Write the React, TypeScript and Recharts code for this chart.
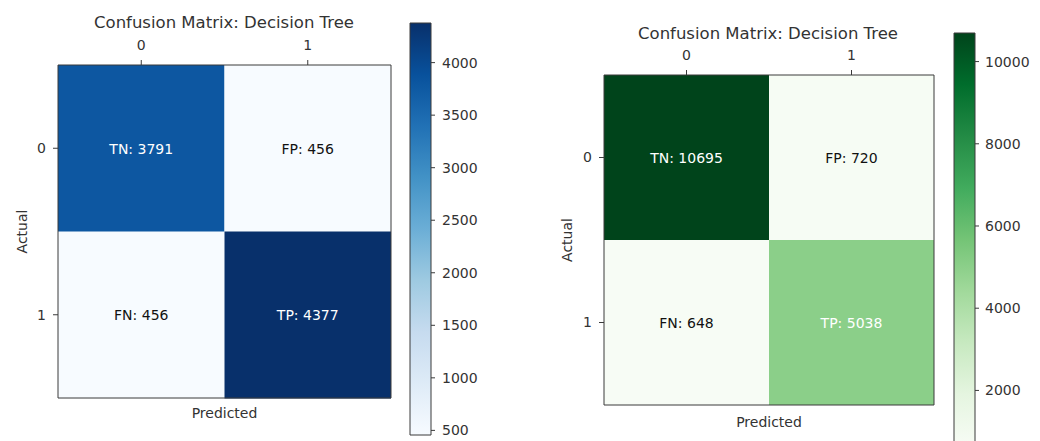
import React from 'react';
import { BarChart, Bar, XAxis, YAxis, Cell, LabelList } from 'recharts';

// ---- data ----
const CLASSES = ['0', '1'];
const CELL_TAGS = [['TN', 'FP'], ['FN', 'TP']];
const BLUE_ROW0 = [3791, 456];
const BLUE_ROW1 = [456, 4377];
const GREEN_ROW0 = [10695, 720];
const GREEN_ROW1 = [648, 5038];
const BLUE_CBAR_TICKS = [500, 1000, 1500, 2000, 2500, 3000, 3500, 4000];
const GREEN_CBAR_TICKS = [2000, 4000, 6000, 8000, 10000];
const TITLE = 'Confusion Matrix: Decision Tree';
const X_LABEL = 'Predicted';
const Y_LABEL = 'Actual';

// matplotlib colormaps (Blues / Greens)
const BLUES = ['#f7fbff', '#deebf7', '#c6dbef', '#9ecae1', '#6baed6', '#4292c6', '#2171b5', '#08519c', '#08306b'];
const GREENS = ['#f7fcf5', '#e5f5e0', '#c7e9c0', '#a1d99b', '#74c476', '#41ab5d', '#238b45', '#006d2c', '#00441b'];

const FONT = '"DejaVu Sans", sans-serif';
const AXIS_COLOR = '#3a3a3a';
const TEXT_COLOR = '#333';

function hexToRgb(h: string) {
  const n = parseInt(h.slice(1), 16);
  return [(n >> 16) & 255, (n >> 8) & 255, n & 255];
}
function cmap(stops: string[], t: number) {
  const tt = Math.max(0, Math.min(1, t));
  const p = tt * (stops.length - 1);
  const i = Math.min(stops.length - 2, Math.floor(p));
  const f = p - i;
  const a = hexToRgb(stops[i]);
  const b = hexToRgb(stops[i + 1]);
  const c = a.map((v, k) => Math.round(v + (b[k] - v) * f));
  return `rgb(${c[0]},${c[1]},${c[2]})`;
}

type HeatProps = {
  matrix: number[][];
  stops: string[];
  w: number;
  h: number;
  margin: { top: number; right: number; bottom: number; left: number };
  yLabelOffset: number;
  xLabelOffset: number;
};

function Heatmap({ matrix, stops, w, h, margin, yLabelOffset, xLabelOffset }: HeatProps) {
  const flat = matrix.flat();
  const vmin = Math.min(...flat);
  const vmax = Math.max(...flat);
  const thresh = flat.reduce((s, v) => s + v, 0) / flat.length;
  const color = (v: number) => cmap(stops, (v - vmin) / (vmax - vmin));
  const data = CLASSES.map((c, i) => ({ actual: c, p0: 1, p1: 1, v0: matrix[i][0], v1: matrix[i][1] }));

  const renderCellText = (col: number) => (props: any) => {
    const { x, y, width, height, index } = props;
    const v = matrix[index][col];
    return (
      <text
        x={Number(x) + Number(width) / 2}
        y={Number(y) + Number(height) / 2}
        textAnchor="middle"
        dominantBaseline="central"
        fill={v > thresh ? '#ffffff' : '#111111'}
        fontSize={14}
        fontFamily={FONT}
      >
        {`${CELL_TAGS[index][col]}: ${v}`}
      </text>
    );
  };

  const tickStyle = { fill: TEXT_COLOR, fontSize: 14, fontFamily: FONT };

  return (
    <BarChart width={w} height={h} data={data} layout="vertical" margin={margin} barCategoryGap={0} barGap={0}>
      <XAxis
        xAxisId="top"
        type="number"
        orientation="top"
        domain={[0, 2]}
        ticks={[0.5, 1.5]}
        tickFormatter={(v: number) => CLASSES[Math.floor(v)]}
        height={35}
        tickSize={5}
        tickMargin={10}
        stroke={AXIS_COLOR}
        tick={tickStyle}
      />
      <XAxis
        xAxisId="bottom"
        type="number"
        orientation="bottom"
        domain={[0, 2]}
        ticks={[0.5, 1.5]}
        tickFormatter={() => ''}
        height={30}
        tickSize={5}
        stroke={AXIS_COLOR}
        tick={tickStyle}
        label={{
          value: X_LABEL,
          position: 'insideBottom',
          offset: xLabelOffset,
          fill: TEXT_COLOR,
          fontSize: 14,
          fontFamily: FONT,
        }}
      />
      <YAxis
        yAxisId="left"
        type="category"
        dataKey="actual"
        width={40}
        tickSize={5}
        tickMargin={7}
        stroke={AXIS_COLOR}
        tick={tickStyle}
        label={{
          value: Y_LABEL,
          angle: -90,
          position: 'insideLeft',
          offset: yLabelOffset,
          fill: TEXT_COLOR,
          fontSize: 14,
          fontFamily: FONT,
          style: { textAnchor: 'middle' },
        }}
      />
      <YAxis
        yAxisId="right"
        type="category"
        dataKey="actual"
        orientation="right"
        width={2}
        tick={false}
        tickLine={false}
        stroke={AXIS_COLOR}
      />
      <Bar dataKey="p0" stackId="s" xAxisId="top" yAxisId="left" isAnimationActive={false}>
        {data.map((d, i) => (
          <Cell key={i} fill={color(d.v0)} />
        ))}
        <LabelList dataKey="v0" content={renderCellText(0)} />
      </Bar>
      <Bar dataKey="p1" stackId="s" xAxisId="top" yAxisId="left" isAnimationActive={false}>
        {data.map((d, i) => (
          <Cell key={i} fill={color(d.v1)} />
        ))}
        <LabelList dataKey="v1" content={renderCellText(1)} />
      </Bar>
    </BarChart>
  );
}

type CbarProps = {
  matrix: number[][];
  stops: string[];
  ticks: number[];
  w: number;
  h: number;
  margin: { top: number; right: number; bottom: number; left: number };
  gid: string;
  tickMargin: number;
};

function Colorbar({ matrix, stops, ticks, w, h, margin, gid, tickMargin }: CbarProps) {
  const flat = matrix.flat();
  const vmin = Math.min(...flat);
  const vmax = Math.max(...flat);
  const data = [{ k: 'cb', range: [vmin, vmax] }];
  return (
    <BarChart width={w} height={h} data={data} margin={margin} barCategoryGap={0}>
      <defs>
        <linearGradient id={gid} x1="0" y1="1" x2="0" y2="0">
          {stops.map((c, i) => (
            <stop key={i} offset={i / (stops.length - 1)} stopColor={c} />
          ))}
        </linearGradient>
      </defs>
      <XAxis dataKey="k" hide />
      <YAxis
        type="number"
        orientation="right"
        domain={[vmin, vmax]}
        ticks={ticks}
        width={60}
        axisLine={false}
        tickSize={4}
        tickMargin={tickMargin}
        stroke={AXIS_COLOR}
        tick={{ fill: TEXT_COLOR, fontSize: 14, fontFamily: FONT }}
      />
      <Bar dataKey="range" fill={`url(#${gid})`} stroke={AXIS_COLOR} strokeWidth={1} isAnimationActive={false} />
    </BarChart>
  );
}

const titleStyle = (cx: number, cy: number): React.CSSProperties => ({
  position: 'absolute',
  left: cx - 200,
  top: cy - 9,
  width: 400,
  textAlign: 'center',
  fontFamily: FONT,
  fontSize: 16.5,
  lineHeight: '20px',
  color: TEXT_COLOR,
});

export default function App() {
  const blue = [BLUE_ROW0, BLUE_ROW1];
  const green = [GREEN_ROW0, GREEN_ROW1];
  return (
    <div
      style={{
        position: 'absolute',
        left: 0,
        top: 0,
        width: 1040,
        height: 441,
        overflow: 'hidden',
        background: '#ffffff',
      }}
    >
      <div style={titleStyle(224, 22)}>{TITLE}</div>
      <div style={titleStyle(768, 33)}>{TITLE}</div>

      <div style={{ position: 'absolute', left: 0, top: 0 }}>
        <Heatmap
          matrix={blue}
          stops={BLUES}
          w={400}
          h={441}
          margin={{ top: 30, right: 7, bottom: 13, left: 18 }}
          yLabelOffset={4}
          xLabelOffset={10}
        />
      </div>
      <div style={{ position: 'absolute', left: 400, top: 0 }}>
        <Colorbar
          matrix={blue}
          stops={BLUES}
          ticks={BLUE_CBAR_TICKS}
          w={120}
          h={441}
          margin={{ top: 23, right: 29, bottom: 6, left: 10 }}
          gid="bluesGrad"
          tickMargin={7}
        />
      </div>

      <div style={{ position: 'absolute', left: 520, top: 0 }}>
        <Heatmap
          matrix={green}
          stops={GREENS}
          w={420}
          h={441}
          margin={{ top: 40, right: 4, bottom: 6, left: 44 }}
          yLabelOffset={3}
          xLabelOffset={8}
        />
      </div>
      <div style={{ position: 'absolute', left: 940, top: 0 }}>
        <Colorbar
          matrix={green}
          stops={GREENS}
          ticks={GREEN_CBAR_TICKS}
          w={100}
          h={460}
          margin={{ top: 33, right: 5, bottom: 14, left: 14 }}
          gid="greensGrad"
          tickMargin={6}
        />
      </div>
    </div>
  );
}
